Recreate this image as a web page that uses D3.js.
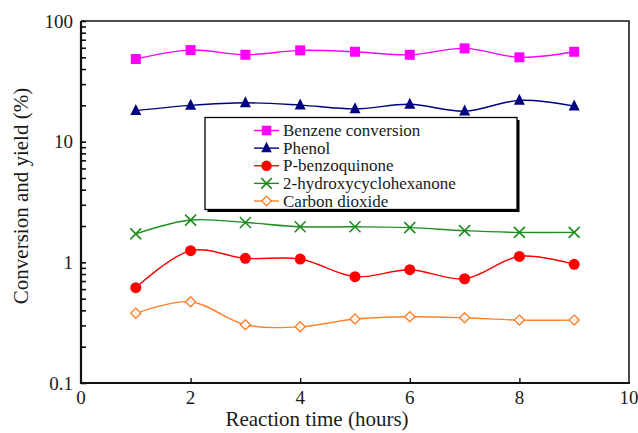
<!DOCTYPE html>
<html>
<head>
<meta charset="utf-8">
<script src="https://cdn.jsdelivr.net/npm/d3@7"></script>
<style>
  html, body { margin: 0; padding: 0; background: #fff; }
  svg { display: block; }
</style>
</head>
<body>
<svg id="chart" width="638" height="433"></svg>
<script>
// Reaction time (hours)
const hours = [1, 2, 3, 4, 5, 6, 7, 8, 9];

// Conversion and yields (%)
const benzeneConversion = [48.4, 57.4, 52.5, 57.1, 55.6, 52.5, 59.3, 50.0, 55.6];
const phenol = [18.1, 20.0, 21.0, 20.1, 18.7, 20.4, 17.9, 22.0, 19.7];
const pBenzoquinone = [0.616, 1.25, 1.08, 1.065, 0.76, 0.869, 0.731, 1.12, 0.963];
const hydroxycyclohexanone = [1.72, 2.24, 2.14, 1.97, 1.97, 1.94, 1.83, 1.77, 1.77];
const carbonDioxide = [0.378, 0.471, 0.304, 0.292, 0.339, 0.354, 0.347, 0.332, 0.332];

const seriesNames = ["Benzene conversion", "Phenol", "P-benzoquinone", "2-hydroxycyclohexanone", "Carbon dioxide"];
const xTicks = [0, 2, 4, 6, 8, 10];
const yTicks = [0.1, 1, 10, 100];
const yTickLabels = ["0.1", "1", "10", "100"];

const FONT = "'Liberation Serif', 'Times New Roman', Tinos, serif";
const INK = "#1a1a1a";

const series = [
  { name: seriesNames[0], values: benzeneConversion, color: "#ff00ff", symbol: "square" },
  { name: seriesNames[1], values: phenol, color: "#000080", symbol: "triangle" },
  { name: seriesNames[2], values: pBenzoquinone, color: "#ff0000", symbol: "circle" },
  { name: seriesNames[3], values: hydroxycyclohexanone, color: "#1e8c1e", symbol: "cross" },
  { name: seriesNames[4], values: carbonDioxide, color: "#ff7f2a", symbol: "diamond" }
];

const svg = d3.select("#chart");
const margin = { left: 81, top: 21, right: 9, bottom: 50 };
const W = 638, H = 433;
const x0 = margin.left, x1 = W - margin.right, y0 = H - margin.bottom, y1 = margin.top;

const x = d3.scaleLinear().domain([0, 10]).range([x0, x1]);
const y = d3.scaleLog().domain([0.1, 100]).range([y0, y1]);

// frame: top and right edges
svg.append("path")
  .attr("d", `M${x0},${y1}H${x1}V${y0}`)
  .attr("fill", "none").attr("stroke", "#111").attr("stroke-width", 1.5);

// left axis with inward major + minor ticks
const minorVals = [];
for (let d = 0.1; d < 100; d *= 10) {
  for (let k = 1; k <= 10; k++) minorVals.push(+(d * k).toPrecision(3));
}
const yAxisG = svg.append("g").attr("transform", `translate(${x0},0)`);
yAxisG.call(d3.axisRight(y).tickValues(Array.from(new Set(minorVals))).tickSize(5).tickFormat(""))
  .call(g => g.select(".domain").remove())
  .call(g => g.selectAll(".tick line").attr("stroke", "#111").attr("stroke-width", 1.6));
yAxisG.append("line").attr("y1", y1).attr("y2", y0 + 1).attr("stroke", "#111").attr("stroke-width", 2.2);

svg.append("g").selectAll("text").data(yTicks).join("text")
  .attr("font-family", FONT)
  .attr("x", x0 - 8).attr("y", d => y(d)).attr("dy", "0.35em")
  .attr("text-anchor", "end").attr("font-size", 19).attr("fill", INK)
  .text((d, i) => yTickLabels[i]);

// bottom axis with inward ticks
const xAxisG = svg.append("g").attr("transform", `translate(0,${y0})`);
xAxisG.call(d3.axisTop(x).tickValues([2, 4, 6, 8]).tickSize(5).tickFormat(""))
  .call(g => g.select(".domain").remove())
  .call(g => g.selectAll(".tick line").attr("stroke", "#111").attr("stroke-width", 1.4));
xAxisG.append("line").attr("x1", x0 - 1).attr("x2", x1 + 1).attr("stroke", "#111").attr("stroke-width", 2.2);

svg.append("g").selectAll("text").data(xTicks).join("text")
  .attr("font-family", FONT)
  .attr("x", d => x(d)).attr("y", y0 + 21)
  .attr("text-anchor", "middle").attr("font-size", 19).attr("fill", INK)
  .text(d => d);

// axis titles
svg.append("text").attr("x", 317).attr("y", 426)
  .attr("font-family", FONT)
  .attr("text-anchor", "middle").attr("font-size", 21).attr("fill", INK)
  .text("Reaction time (hours)");
svg.append("text")
  .attr("font-family", FONT)
  .attr("transform", `translate(28,196) rotate(-90)`)
  .attr("text-anchor", "middle").attr("font-size", 21).attr("fill", INK)
  .text("Conversion and yield (%)");

// marker drawing
function drawMarker(g, s, cx, cy, scale = 1) {
  const c = s.color;
  if (s.symbol === "square") {
    const a = 10 * scale;
    g.append("rect").attr("x", cx - a / 2).attr("y", cy - a / 2).attr("width", a).attr("height", a).attr("fill", c);
  } else if (s.symbol === "triangle") {
    const a = 11 * scale;
    g.append("path").attr("d", `M${cx},${cy - a * 0.6}L${cx + a / 2},${cy + a * 0.4}L${cx - a / 2},${cy + a * 0.4}Z`).attr("fill", c);
  } else if (s.symbol === "circle") {
    g.append("circle").attr("cx", cx).attr("cy", cy).attr("r", 5.5 * scale).attr("fill", c);
  } else if (s.symbol === "cross") {
    const a = 5.5 * scale;
    g.append("path").attr("d", `M${cx - a},${cy - a}L${cx + a},${cy + a}M${cx - a},${cy + a}L${cx + a},${cy - a}`)
      .attr("stroke", c).attr("stroke-width", 1.6).attr("fill", "none");
  } else if (s.symbol === "diamond") {
    const a = 5 * scale;
    g.append("path").attr("d", `M${cx},${cy - a}L${cx + a},${cy}L${cx},${cy + a}L${cx - a},${cy}Z`)
      .attr("stroke", c).attr("stroke-width", 1.4).attr("fill", "#fff");
    g.append("circle").attr("cx", cx).attr("cy", cy).attr("r", 1).attr("fill", "#ffd9bf");
  }
}

// legend box with drop shadow
const lg = svg.append("g");
const lx = 205, ly = 117.5, lw = 312, lh = 92;
lg.append("rect").attr("x", lx + 2.5).attr("y", ly + 2.5).attr("width", lw).attr("height", lh).attr("fill", "#000");
lg.append("rect").attr("x", lx).attr("y", ly).attr("width", lw).attr("height", lh)
  .attr("fill", "#fff").attr("stroke", "#000").attr("stroke-width", 1.3);
const rowY = d3.scaleLinear().domain([0, 4]).range([130.5, 201]);
series.forEach((s, i) => {
  const cy = rowY(i);
  lg.append("line").attr("x1", 254).attr("x2", 279).attr("y1", cy).attr("y2", cy)
    .attr("stroke", s.color).attr("stroke-width", 1.4);
  drawMarker(lg, s, 266.5, cy, 0.95);
  lg.append("text").attr("x", 283).attr("y", cy).attr("dy", "0.33em")
    .attr("font-family", FONT)
    .attr("font-size", 17).attr("fill", INK).text(s.name);
});

// curves and markers
const line = d3.line()
  .x((d, i) => x(hours[i]))
  .y(d => y(d))
  .curve(d3.curveCatmullRom.alpha(0.5));

series.forEach(s => {
  svg.append("path").datum(s.values).attr("d", line)
    .attr("fill", "none").attr("stroke", s.color).attr("stroke-width", 1.4);
  const g = svg.append("g");
  s.values.forEach((v, i) => drawMarker(g, s, x(hours[i]), y(v)));
});
</script>
</body>
</html>
